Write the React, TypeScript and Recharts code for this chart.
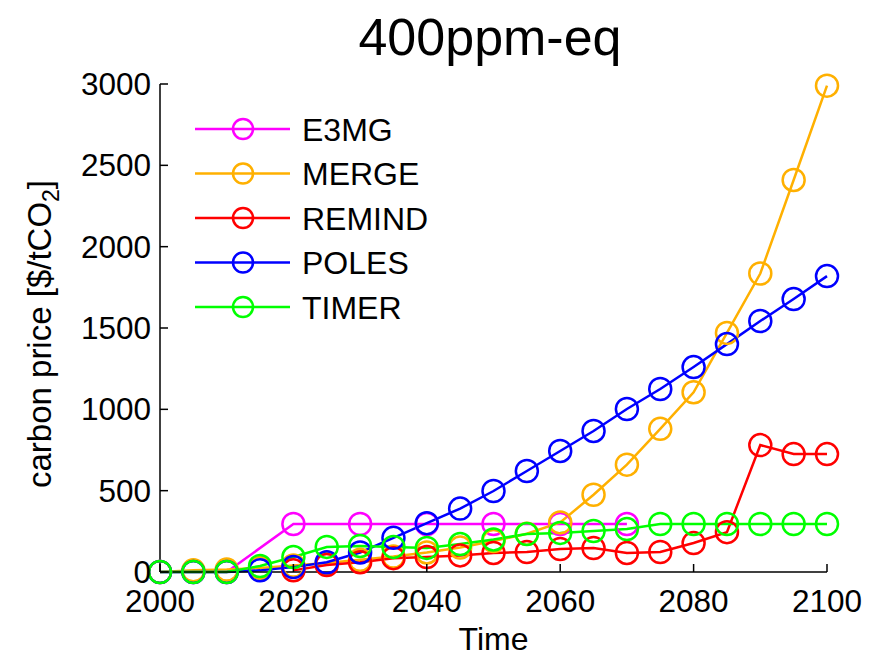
import React from 'react';
import { LineChart, Line, XAxis, YAxis } from 'recharts';

const FONT = '"Liberation Sans", Arial, Helvetica, sans-serif';

const e3mgYears = [2000, 2005, 2010, 2020, 2030, 2040, 2050, 2060, 2070];
const e3mgValues = [0, 0, 0, 295, 295, 295, 295, 295, 295];

const mergeYears = [2000, 2005, 2010, 2015, 2020, 2025, 2030, 2035, 2040, 2045, 2050, 2055, 2060, 2065, 2070, 2075, 2080, 2085, 2090, 2095, 2100];
const mergeValues = [0, 10, 15, 25, 40, 55, 75, 95, 120, 150, 190, 235, 305, 475, 660, 880, 1105, 1470, 1835, 2410, 2990];

const remindYears = [2020, 2025, 2030, 2035, 2040, 2045, 2050, 2055, 2060, 2065, 2070, 2075, 2080, 2085, 2090, 2095, 2100];
const remindValues = [10, 43, 60, 85, 92, 102, 117, 123, 141, 147, 117, 123, 178, 245, 780, 725, 725];

const polesYears = [2000, 2005, 2010, 2015, 2020, 2025, 2030, 2035, 2040, 2045, 2050, 2055, 2060, 2065, 2070, 2075, 2080, 2085, 2090, 2095, 2100];
const polesValues = [0, 0, 0, 10, 30, 60, 120, 210, 300, 390, 498, 621, 744, 867, 1002, 1125, 1260, 1401, 1543, 1678, 1819];

const timerYears = [2000, 2005, 2010, 2015, 2020, 2025, 2030, 2035, 2040, 2045, 2050, 2055, 2060, 2065, 2070, 2075, 2080, 2085, 2090, 2095, 2100];
const timerValues = [0, 0, 0, 37, 92, 154, 160, 154, 148, 172, 200, 233, 240, 252, 264, 295, 295, 295, 295, 295, 295];

const xTicks = [2000, 2020, 2040, 2060, 2080, 2100];
const yTicks = [0, 500, 1000, 1500, 2000, 2500, 3000];

const toData = (years: number[], values: number[]) =>
  years.map((year, i) => ({ year, value: values[i] }));

const series = [
  { name: 'E3MG', color: '#FF00FF', data: toData(e3mgYears, e3mgValues) },
  { name: 'MERGE', color: '#FFB000', data: toData(mergeYears, mergeValues) },
  { name: 'REMIND', color: '#FF0000', data: toData(remindYears, remindValues) },
  { name: 'POLES', color: '#0000FF', data: toData(polesYears, polesValues) },
  { name: 'TIMER', color: '#00FF00', data: toData(timerYears, timerValues) },
];

const XTick = (props: any) => {
  const { x, y, payload } = props;
  return (
    <g>
      <line x1={x} x2={x} y1={y} y2={y - 8} stroke="#000" strokeWidth={1.5} />
      <text x={x} y={y + 40} textAnchor="middle" fontSize={31.5} fontFamily={FONT} fill="#000">
        {payload.value}
      </text>
    </g>
  );
};

const YTick = (props: any) => {
  const { x, y, payload } = props;
  return (
    <g>
      <line x1={x} x2={x + 8} y1={y} y2={y} stroke="#000" strokeWidth={1.5} />
      <text x={x - 9} y={y + 11} textAnchor="end" fontSize={31.5} fontFamily={FONT} fill="#000">
        {payload.value}
      </text>
    </g>
  );
};

const LegendBox = () => (
  <svg
    width={260}
    height={230}
    style={{ position: 'absolute', left: 195, top: 107, overflow: 'visible' }}
  >
    {series.map((s, i) => {
      const cy = 22 + i * 44.5;
      return (
        <g key={s.name}>
          <line x1={0} x2={95} y1={cy} y2={cy} stroke={s.color} strokeWidth={2.5} />
          <circle cx={48} cy={cy} r={10} fill="none" stroke={s.color} strokeWidth={2.5} />
          <text x={107} y={cy + 11.5} fontSize={32} fontFamily={FONT} fill="#000">
            {s.name}
          </text>
        </g>
      );
    })}
  </svg>
);

export default function App() {
  return (
    <div style={{ position: 'absolute', left: 0, top: 0, width: 876, height: 657, background: '#fff' }}>
      <LineChart width={876} height={657} margin={{ top: 84, right: 49, bottom: 0, left: 0 }}>
        <XAxis
          type="number"
          dataKey="year"
          domain={[2000, 2100]}
          ticks={xTicks}
          interval={0}
          height={85}
          tickSize={0}
          tickMargin={0}
          tickLine={false}
          tick={<XTick />}
          axisLine={{ stroke: '#000', strokeWidth: 1.5 }}
          allowDuplicatedCategory={false}
        />
        <YAxis
          type="number"
          domain={[0, 3000]}
          ticks={yTicks}
          interval={0}
          width={160}
          tickSize={0}
          tickMargin={0}
          tickLine={false}
          tick={<YTick />}
          axisLine={{ stroke: '#000', strokeWidth: 1.5 }}
        />
        {series.map((s) => (
          <Line
            key={s.name}
            data={s.data}
            dataKey="value"
            name={s.name}
            type="linear"
            stroke={s.color}
            strokeWidth={2.5}
            dot={{ r: 11, fill: 'none', stroke: s.color, strokeWidth: 2.5 }}
            activeDot={false}
            isAnimationActive={false}
          />
        ))}
      </LineChart>
      <LegendBox />
      <div
        style={{
          position: 'absolute',
          left: 0,
          width: 980,
          top: 2,
          textAlign: 'center',
          fontFamily: FONT,
          fontSize: 52,
          color: '#000',
          lineHeight: '70px',
        }}
      >
        400ppm-eq
      </div>
      <div
        style={{
          position: 'absolute',
          left: 160,
          width: 667,
          top: 620,
          textAlign: 'center',
          fontFamily: FONT,
          fontSize: 32,
          color: '#000',
          lineHeight: '38px',
        }}
      >
        Time
      </div>
      <div
        style={{
          position: 'absolute',
          left: 40,
          top: 334,
          width: 420,
          height: 40,
          marginLeft: -210,
          marginTop: -20,
          transform: 'rotate(-90deg)',
          textAlign: 'center',
          fontFamily: FONT,
          fontSize: 33,
          color: '#000',
          lineHeight: '40px',
          whiteSpace: 'nowrap',
        }}
      >
        carbon price [$/tCO<sub style={{ fontSize: 23, verticalAlign: 'sub', lineHeight: 0 }}>2</sub>]
      </div>
    </div>
  );
}
